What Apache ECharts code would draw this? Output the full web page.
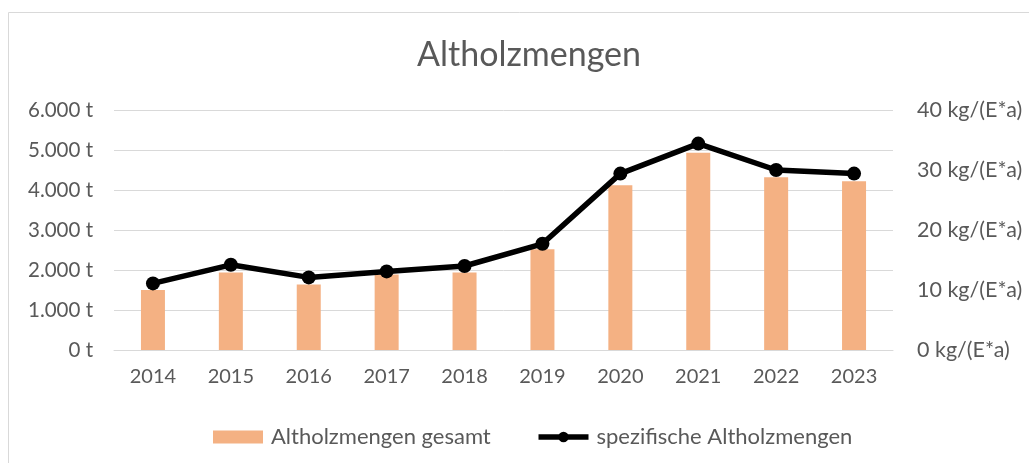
<!DOCTYPE html>
<html>
<head>
<meta charset="utf-8">
<script src="https://cdn.jsdelivr.net/npm/echarts@6/dist/echarts.min.js"></script>
<style>
  html, body { margin: 0; padding: 0; background: #fff; }
  #chart { width: 1029px; height: 463px; }
</style>
</head>
<body>
<div id="chart"></div>
<script>
// Daten
const years = ['2014', '2015', '2016', '2017', '2018', '2019', '2020', '2021', '2022', '2023'];
const mengenGesamt = [1500, 1940, 1640, 1890, 1940, 2520, 4120, 4930, 4320, 4220]; // t
const mengenSpezifisch = [11.1, 14.2, 12.1, 13.1, 14.0, 17.7, 29.4, 34.4, 30.0, 29.4]; // kg/(E*a)

const fontFam = 'Lato, "Open Sans", sans-serif';
const grey = '#595959';

const chart = echarts.init(document.getElementById('chart'));

chart.setOption({
    animation: false,
    title: {
        text: 'Altholzmengen',
        left: 412,
        top: 33,
        textStyle: { fontFamily: fontFam, fontSize: 34, fontWeight: 'normal', color: grey }
    },
    // Rahmen um das Diagramm
    graphic: [{
        type: 'rect',
        shape: { x: 8.5, y: 12.5, width: 1100, height: 600 },
        style: { fill: 'none', stroke: '#d9d9d9', lineWidth: 1 },
        silent: true
    }],
    legend: {
        top: 421,
        left: 208,
        itemGap: 45,
        itemWidth: 50,
        itemHeight: 13,
        textStyle: { fontFamily: fontFam, fontSize: 22, color: grey, padding: [0, 0, 0, 3] },
        data: [
            { name: 'Altholzmengen gesamt', icon: 'rect' },
            { name: 'spezifische Altholzmengen', lineStyle: { width: 5.5 } }
        ]
    },
    grid: { left: 114, right: 136, top: 110, bottom: 113, containLabel: false },
    xAxis: {
        type: 'category',
        data: years,
        axisLine: { lineStyle: { color: '#d9d9d9' } },
        axisTick: { show: false },
        axisLabel: { fontFamily: fontFam, fontSize: 20, color: grey, margin: 17 }
    },
    yAxis: [{
        type: 'value',
        min: 0,
        max: 6000,
        interval: 1000,
        axisLine: { show: false },
        axisTick: { show: false },
        splitLine: { lineStyle: { color: '#d9d9d9', width: 1 } },
        axisLabel: {
            fontFamily: fontFam, fontSize: 20.5, color: grey, margin: 21,
            formatter: v => (v === 0 ? '0' : (v / 1000).toFixed(3)) + ' t'
        }
    }, {
        type: 'value',
        min: 0,
        max: 40,
        interval: 10,
        position: 'right',
        axisLine: { show: false },
        axisTick: { show: false },
        splitLine: { show: false },
        axisLabel: {
            fontFamily: fontFam, fontSize: 21.5, color: grey, margin: 24,
            formatter: v => v + ' kg/(E*a)'
        }
    }],
    series: [{
        name: 'Altholzmengen gesamt',
        type: 'bar',
        data: mengenGesamt,
        barWidth: 24,
        itemStyle: { color: '#f4b183' },
        yAxisIndex: 0
    }, {
        name: 'spezifische Altholzmengen',
        type: 'line',
        data: mengenSpezifisch,
        yAxisIndex: 1,
        symbol: 'circle',
        symbolSize: 14,
        lineStyle: { color: '#000', width: 5.5 },
        itemStyle: { color: '#000' }
    }]
});
</script>
</body>
</html>
